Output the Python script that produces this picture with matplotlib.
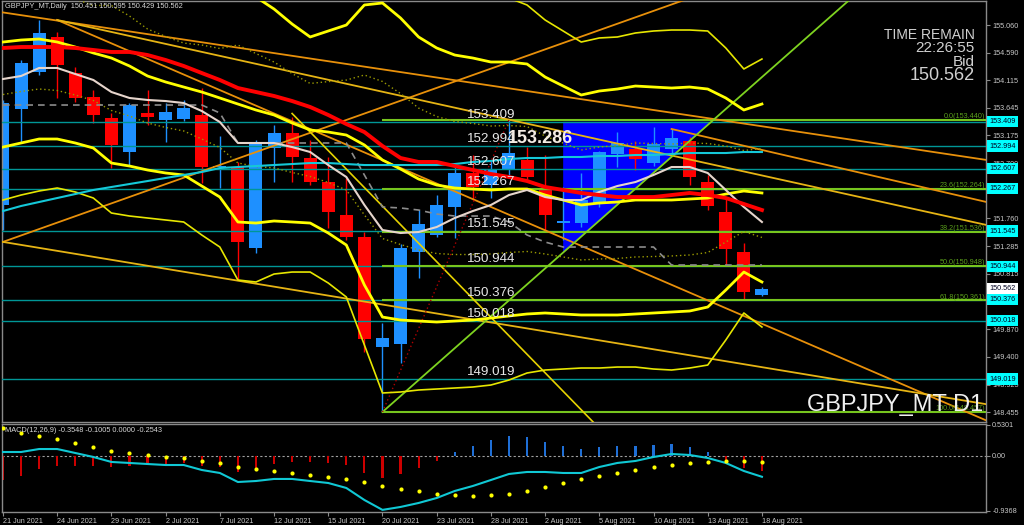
import matplotlib
matplotlib.use('Agg')
import matplotlib.pyplot as plt
import numpy as np

plt.rcParams['font.family'] = ['Liberation Sans', 'DejaVu Sans']

# --- daily candles GBPJPY_MT (21 Jun 2021 .. 18 Aug 2021) ---
opens = [151.989, 153.627, 154.258, 154.856, 154.241, 153.832, 153.473, 152.893, 153.559, 153.439,
         153.456, 153.525, 152.637, 152.637, 151.255, 152.961, 153.217, 152.791, 152.381, 151.818,
         151.443, 149.565, 149.617, 151.187, 151.477, 151.954, 152.535, 152.330, 152.603, 152.757,
         152.279, 151.681, 151.681, 152.023, 152.859, 152.944, 152.705, 152.944, 153.081, 152.381,
         151.869, 151.187, 150.451]
highs = [153.781, 154.463, 155.146, 154.941, 154.344, 153.951, 153.559, 153.729, 153.951, 153.729,
         153.781, 153.985, 153.166, 152.722, 153.098, 153.354, 153.490, 153.098, 152.808, 152.450,
         151.528, 149.975, 151.323, 151.903, 152.159, 152.671, 152.842, 152.740, 153.440, 152.979,
         152.842, 152.300, 152.535, 152.910, 153.234, 153.081, 153.320, 153.286, 153.149, 152.501,
         152.108, 151.340, 150.595]
lows = [151.562, 153.064, 154.207, 153.815, 153.746, 153.388, 152.620, 152.671, 153.354, 153.064,
        153.422, 152.364, 152.279, 150.709, 151.170, 152.381, 152.381, 152.330, 151.596, 151.391,
        149.480, 148.457, 149.292, 150.743, 151.443, 151.426, 152.074, 152.108, 152.450, 152.415,
        151.562, 151.400, 151.613, 151.950, 152.637, 152.586, 152.654, 152.842, 152.330, 151.903,
        150.965, 150.367, 150.429]
closes = [153.729, 154.412, 154.924, 154.378, 153.815, 153.525, 153.013, 153.695, 153.490, 153.576,
          153.644, 152.637, 152.654, 151.357, 153.064, 153.217, 152.808, 152.381, 151.869, 151.443,
          149.702, 149.719, 151.255, 151.664, 151.989, 152.535, 152.296, 152.603, 152.876, 152.467,
          151.818, 151.715, 152.074, 152.893, 153.047, 152.774, 153.030, 153.132, 152.467, 151.971,
          151.238, 150.504, 150.562]

# --- indicator lines ---
ma_white = [154.139, 154.190, 154.327, 154.327, 154.224, 154.122, 153.917, 153.815, 153.781, 153.763,
            153.729, 153.593, 153.405, 153.047, 153.047, 153.047, 152.978, 152.893, 152.671, 152.467,
            151.989, 151.562, 151.511, 151.528, 151.613, 151.767, 151.886, 151.989, 152.159, 152.245,
            152.125, 152.074, 152.074, 152.211, 152.313, 152.381, 152.501, 152.637, 152.637, 152.535,
            152.245, 151.955, 151.699]
ma_red = [154.668, 154.685, 154.685, 154.685, 154.668, 154.634, 154.600, 154.600, 154.548, 154.463,
          154.361, 154.241, 154.122, 153.985, 153.917, 153.849, 153.763, 153.661, 153.525, 153.371,
          153.234, 152.996, 152.791, 152.723, 152.723, 152.654, 152.586, 152.518, 152.467, 152.398,
          152.296, 152.245, 152.194, 152.159, 152.125, 152.125, 152.125, 152.159, 152.194, 152.159,
          152.108, 152.006, 151.903]
ma_cyan = [151.886, 151.972, 152.040, 152.108, 152.176, 152.245, 152.296, 152.347, 152.398, 152.450,
           152.501, 152.552, 152.620, 152.637, 152.654, 152.671, 152.688, 152.705, 152.705, 152.688,
           152.671, 152.671, 152.671, 152.671, 152.671, 152.688, 152.723, 152.740, 152.774, 152.791,
           152.791, 152.808, 152.808, 152.825, 152.825, 152.842, 152.842, 152.859, 152.876, 152.876,
           152.876, 152.893, 152.893]
bb_mid = [154.770, 154.804, 154.821, 154.770, 154.685, 154.583, 154.497, 154.361, 154.190, 154.088,
          154.002, 153.917, 153.815, 153.712, 153.610, 153.525, 153.388, 153.269, 153.234, 153.183,
          153.013, 152.757, 152.603, 152.432, 152.330, 152.279, 152.262, 152.245, 152.262, 152.262,
          152.159, 152.074, 151.989, 152.023, 152.040, 152.074, 152.074, 152.074, 152.091, 152.108,
          152.176, 152.228, 152.194]
bb_up2 = [156.562, 156.562, 156.528, 156.426, 156.323, 156.204, 156.289, 156.067, 155.794, 155.641,
          155.504, 155.521, 155.504, 155.726, 155.538, 155.333, 155.077, 154.856, 154.958, 155.060,
          155.402, 155.436, 155.180, 154.856, 154.668, 154.548, 154.497, 154.429, 154.429, 154.395,
          154.173, 154.019, 153.866, 153.934, 153.968, 154.019, 154.002, 153.985, 154.002, 153.968,
          153.815, 153.610, 153.712]
bb_lo2 = [152.978, 153.047, 153.115, 153.115, 153.047, 152.961, 152.705, 152.654, 152.586, 152.535,
          152.501, 152.313, 152.125, 151.699, 151.681, 151.716, 151.699, 151.681, 151.511, 151.306,
          150.624, 150.077, 150.026, 150.009, 149.992, 150.009, 150.026, 150.060, 150.095, 150.129,
          150.146, 150.129, 150.112, 150.112, 150.112, 150.129, 150.146, 150.163, 150.180, 150.248,
          150.538, 150.845, 150.675]
bb_up3 = [157.467, 157.449, 157.415, 157.262, 157.159, 157.057, 157.142, 156.920, 156.613, 156.443,
          156.306, 156.357, 156.357, 156.716, 156.545, 156.238, 155.931, 155.692, 155.811, 155.948,
          156.426, 156.733, 156.409, 156.033, 155.811, 155.692, 155.641, 155.572, 155.521, 155.402,
          155.146, 154.958, 154.770, 154.839, 154.856, 154.924, 154.958, 154.975, 154.975, 154.958,
          154.668, 154.310, 154.480]
bb_lo3 = [152.074, 152.159, 152.228, 152.279, 152.211, 152.108, 151.852, 151.801, 151.767, 151.733,
          151.699, 151.477, 151.272, 150.709, 150.675, 150.811, 150.845, 150.845, 150.658, 150.419,
          149.600, 148.781, 148.798, 148.832, 148.849, 148.866, 148.883, 148.917, 149.002, 149.122,
          149.173, 149.190, 149.207, 149.207, 149.224, 149.224, 149.190, 149.173, 149.207, 149.258,
          149.685, 150.146, 149.907]
bb_up1 = [155.666, 155.682, 155.674, 155.597, 155.504, 155.394, 155.393, 155.214, 154.992, 154.864,
          154.752, 154.719, 154.660, 154.718, 154.574, 154.429, 154.232, 154.063, 154.095, 154.121,
          154.207, 154.097, 153.891, 153.643, 153.499, 153.414, 153.380, 153.337, 153.345, 153.328,
          153.165, 153.046, 152.927, 152.978, 153.004, 153.046, 153.038, 153.029, 153.046, 153.038,
          152.995, 152.919, 152.953]
bb_lo1 = [153.874, 153.926, 153.968, 153.943, 153.866, 153.772, 153.601, 153.508, 153.388, 153.312,
          153.252, 153.115, 152.970, 152.706, 152.646, 152.621, 152.544, 152.475, 152.373, 152.245,
          151.819, 151.417, 151.315, 151.221, 151.161, 151.144, 151.144, 151.153, 151.179, 151.196,
          151.153, 151.102, 151.051, 151.068, 151.076, 151.102, 151.110, 151.119, 151.136, 151.178,
          151.357, 151.537, 151.435]
step_gray = [153.695, 153.695, 153.695, 153.695, 153.695, 153.695, 153.695, 153.695, 153.695, 153.695,
             153.695, 153.695, 153.559, 153.047, 153.047, 153.047, 153.047, 153.047, 153.047, 153.047,
             152.501, 151.955, 151.938, 151.903, 151.835, 151.801, 151.801, 151.801, 151.699, 151.477,
             151.357, 151.272, 151.272, 151.272, 151.272, 151.272, 151.272, 150.965, 150.965, 150.965,
             150.965, 150.965, 150.965]

# --- MACD(12,26,9) ---
macd_line = [0.068, 0.068, 0.119, 0.119, 0.051, -0.017, -0.102, -0.119, -0.137, -0.154,
             -0.154, -0.239, -0.290, -0.444, -0.427, -0.392, -0.392, -0.427, -0.461, -0.546,
             -0.751, -0.920, -0.870, -0.802, -0.717, -0.597, -0.512, -0.410, -0.307, -0.273,
             -0.273, -0.290, -0.290, -0.188, -0.119, -0.085, -0.017, 0.034, 0.017, -0.034,
             -0.119, -0.256, -0.3548]
macd_signal = [0.478, 0.392, 0.341, 0.290, 0.222, 0.154, 0.085, 0.051, 0.017, -0.017,
               -0.034, -0.085, -0.119, -0.188, -0.222, -0.256, -0.290, -0.324, -0.358, -0.392,
               -0.444, -0.512, -0.563, -0.597, -0.648, -0.666, -0.683, -0.666, -0.648, -0.597,
               -0.529, -0.461, -0.392, -0.341, -0.290, -0.239, -0.188, -0.154, -0.119, -0.102,
               -0.085, -0.085, -0.1005]
macd_hist = [-0.410, -0.341, -0.222, -0.171, -0.171, -0.171, -0.188, -0.171, -0.154, -0.137,
             -0.119, -0.171, -0.188, -0.273, -0.205, -0.137, -0.102, -0.102, -0.119, -0.154,
             -0.290, -0.375, -0.307, -0.205, -0.085, 0.068, 0.171, 0.273, 0.341, 0.324,
             0.239, 0.171, 0.119, 0.154, 0.171, 0.171, 0.188, 0.205, 0.154, 0.068,
             -0.119, -0.205, -0.2543]

# --- objects ---
levels = [153.409, 152.994, 152.607, 152.267, 151.545, 150.944, 150.376, 150.018, 149.019]
fib_levels = [153.440, 152.264, 151.536, 150.948, 150.361, 148.457]
fib_labels = ['0.0(153.440)', '23.6(152.264)', '38.2(151.536)', '50.0(150.948)', '61.8(150.361)', '100.0(148.457)']
bid = 150.562
# trend lines: (bar, price) end points
tl_orange = [((-1, 155.321), (55, 152.731)), ((3, 155.146), (56, 148.102)),
             ((-1, 151.250), (40, 155.739)), ((37, 153.286), (55, 151.999))]
tl_gold = [((3, 155.146), (55, 151.609)), ((-1, 151.410), (55, 148.560))]
tl_yellow = [((16, 153.550), (34, 147.862))]
tl_green = ((21, 148.457), (48, 155.804))
fib_diag = ((21, 148.457), (28, 153.440))
tri_bars = [31, 39.2, 31]
tri_prices = [153.409, 153.409, 151.178]

right_ticks = [155.060, 154.590, 154.115, 153.645, 153.175, 152.700, 152.230, 151.760,
               151.285, 150.815, 150.345, 149.870, 149.400, 148.925, 148.455]
hidden_ticks = [152.230, 150.345]  # covered by the level boxes in the terminal
date_labels = ['21 Jun 2021', '24 Jun 2021', '29 Jun 2021', '2 Jul 2021', '7 Jul 2021', '12 Jul 2021',
               '15 Jul 2021', '20 Jul 2021', '23 Jul 2021', '28 Jul 2021', '2 Aug 2021', '5 Aug 2021',
               '10 Aug 2021', '13 Aug 2021', '18 Aug 2021']

TXT = '#c8c8c8'
fig = plt.figure(figsize=(10.24, 5.25), dpi=100, facecolor='black')
ax = fig.add_axes([2 / 1024, 1 - 422 / 525, 984 / 1024, 421 / 525])
axm = fig.add_axes([2 / 1024, 1 - 512 / 525, 984 / 1024, 88 / 525], sharex=ax)
for a in (ax, axm):
    a.set_facecolor('black')
    for s in a.spines.values():
        s.set_color('#8a8a8a')
        s.set_linewidth(1)

x = np.arange(len(opens))
o = np.array(opens)
c = np.array(closes)
bull = c >= o
cols = np.where(bull, '#1e90ff', '#ff0000')

# background triangle
ax.fill(tri_bars, tri_prices, color='#0000ff', zorder=1, lw=0)

# candles
ax.vlines(x, lows, highs, colors=cols, lw=1, zorder=2)
ax.bar(x, np.maximum(np.abs(c - o), 0.012), bottom=np.minimum(o, c), width=0.72,
       color=cols, lw=0, zorder=2.1)

# horizontal levels and fibo
for lv in levels:
    ax.axhline(lv, color='#009696', lw=1, zorder=3)
ax.hlines(fib_levels, 21, 60, colors='#76c51e', lw=1.5, zorder=3.1)
for lv, lab in zip(fib_levels, fib_labels):
    ax.text(54.34, lv + 0.03, lab, ha='right', va='baseline', fontsize=5.2, color='#5a9e1c', zorder=6)

# trend lines
for (p1, p2) in tl_orange:
    ax.plot([p1[0], p2[0]], [p1[1], p2[1]], color='#e8900a', lw=1.3, zorder=3.5)
for (p1, p2) in tl_gold:
    ax.plot([p1[0], p2[0]], [p1[1], p2[1]], color='#e6b414', lw=1.3, zorder=3.5)
for (p1, p2) in tl_yellow:
    ax.plot([p1[0], p2[0]], [p1[1], p2[1]], color='#e6d200', lw=1.2, zorder=3.5)
ax.plot([tl_green[0][0], tl_green[1][0]], [tl_green[0][1], tl_green[1][1]], color='#7ed320', lw=1.3, zorder=3.6)
ax.plot([fib_diag[0][0], fib_diag[1][0]], [fib_diag[0][1], fib_diag[1][1]],
        color='#b00000', lw=1, ls=(0, (1, 2)), zorder=3.6)

# indicators
ax.plot(x, bb_up3, color='#e6e600', lw=1.2, zorder=4)
ax.plot(x, bb_lo3, color='#e6e600', lw=1.2, zorder=4)
ax.plot(x, bb_up1, color='#9a9a00', lw=1, ls=(0, (1, 2)), zorder=4)
ax.plot(x, bb_lo1, color='#9a9a00', lw=1, ls=(0, (1, 2)), zorder=4)
ax.plot(x, bb_up2, color='#ffff00', lw=2, zorder=4.2)
ax.plot(x, bb_lo2, color='#ffff00', lw=2, zorder=4.2)
ax.plot(x, bb_mid, color='#ffff00', lw=2, zorder=4.2)
ax.plot(x, step_gray, color='#8c8c8c', lw=1.2, ls=(0, (4, 3)), zorder=4.3)
ax.plot(x, ma_cyan, color='#14c8d8', lw=1.5, zorder=4.4)
ax.plot(x, ma_white, color='#e6d5cc', lw=1.5, zorder=4.5)
ax.plot(x, ma_red, color='#ff0000', lw=2.8, zorder=4.6)

# level text labels
for lv in levels:
    ax.text(25.68, lv + 0.065, f'{lv:.3f}', fontsize=9.6, color='#e8e8e8', va='baseline', ha='left', zorder=7)
ax.text(27.95, 153.132, '153.286', fontsize=13, fontweight='bold', color='#f4ece4', va='center', ha='left', zorder=8)

ax.set_xlim(-0.055, 54.40)
ax.set_ylim(148.286, 155.470)
ax.yaxis.tick_right()
ax.set_yticks(right_ticks)
ax.set_yticklabels(['' if v in hidden_ticks else f'{v:.3f}' for v in right_ticks])
ax.tick_params(axis='y', colors='#8a8a8a', labelcolor=TXT, labelsize=5.2, length=3, pad=1.5)
ax.tick_params(axis='x', bottom=False, labelbottom=False)

ytr = ax.get_yaxis_transform()
for lv in levels:
    ax.text(1.0032, lv, f'{lv:.3f}', transform=ytr, ha='left', va='center', fontsize=5.2, color='#000020',
            bbox=dict(boxstyle='square,pad=0.3', fc='#00ffff', ec='none'), zorder=10, clip_on=False)
ax.text(1.0032, bid, f'{bid:.3f}', transform=ytr, ha='left', va='center', fontsize=5.2, color='#000020',
        bbox=dict(boxstyle='square,pad=0.3', fc='#ffffff', ec='none'), zorder=10, clip_on=False)

# MACD panel
hist = np.array(macd_hist)
axm.axhline(0, color='#a0a0a0', lw=0.8, ls=(0, (2, 2)), zorder=1)
axm.bar(x, hist, width=0.12, color=np.where(hist >= 0, '#1f6fd6', '#cc0000'), zorder=2)
axm.plot(x, macd_line, color='#10c8d4', lw=1.5, zorder=3)
axm.scatter(x, macd_signal, s=9, color='#ffff00', linewidths=0, zorder=4)
axm.set_ylim(-0.956, 0.546)
axm.yaxis.tick_right()
axm.set_yticks([0.5301, 0.0, -0.9368])
axm.set_yticklabels(['0.5301', '0.00', '-0.9368'])
axm.tick_params(axis='y', colors='#8a8a8a', labelcolor=TXT, labelsize=5.2, length=3, pad=1.5)
axm.set_xticks(np.arange(0, 43, 3))
axm.set_xticklabels(date_labels)
axm.tick_params(axis='x', colors='#8a8a8a', labelcolor=TXT, labelsize=5.2, length=3, pad=1.5)
for lab in axm.get_xticklabels():
    lab.set_horizontalalignment('left')

# overlay texts
fig.text(5 / 1024, 1 - 7 / 525, 'GBPJPY_MT,Daily  150.451 150.595 150.429 150.562', fontsize=5.3,
         color='#d8d8d8', va='center')
fig.text(5 / 1024, 1 - 431 / 525, 'MACD(12,26,9) -0.3548 -0.1005 0.0000 -0.2543', fontsize=5.3,
         color='#d8d8d8', va='center')
fig.text(975 / 1024, 1 - 35 / 525, 'TIME REMAIN', fontsize=10, color='#d0d0d0', ha='right', va='center')
fig.text(975 / 1024, 1 - 48 / 525, '22:26:55', fontsize=11, color='#d0d0d0', ha='right', va='center')
fig.text(975 / 1024, 1 - 62 / 525, 'Bid', fontsize=11, color='#d0d0d0', ha='right', va='center')
fig.text(975 / 1024, 1 - 76 / 525, '150.562', fontsize=13, color='#d0d0d0', ha='right', va='center')
fig.text(983 / 1024, 1 - 405 / 525, 'GBPJPY_MT D1', fontsize=17, color='#f0f0f0', ha='right', va='center')

fig.savefig('out.png', dpi=100, facecolor='black')
